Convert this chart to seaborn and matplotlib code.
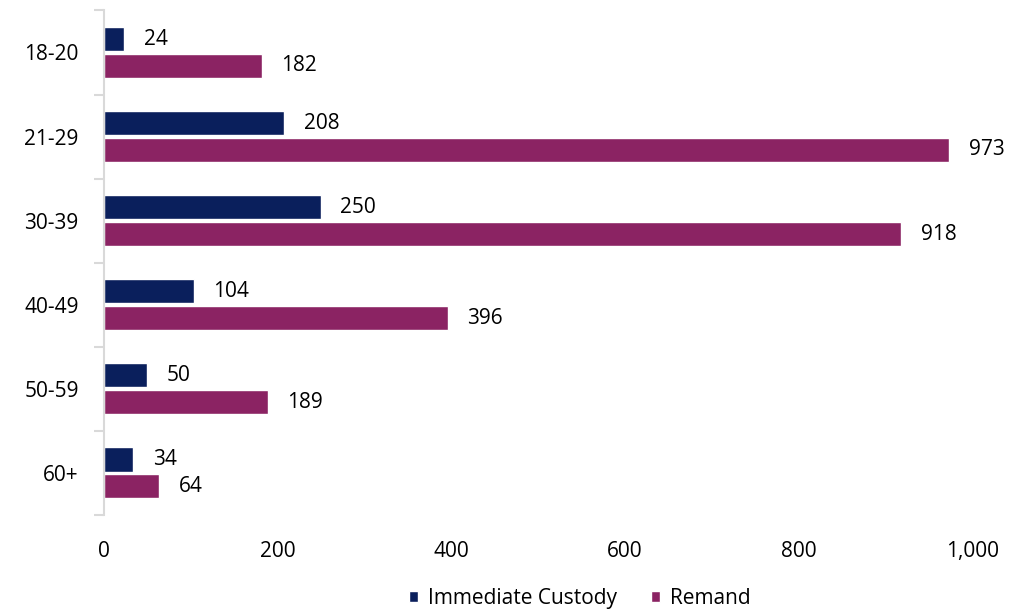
import numpy as np
import pandas as pd
import matplotlib
matplotlib.use('Agg')
from matplotlib import pyplot as plt
from matplotlib.ticker import FuncFormatter, FixedLocator
import seaborn as sns

age_groups = ['18-20', '21-29', '30-39', '40-49', '50-59', '60+']
immediate_custody = [24, 208, 250, 104, 50, 34]
remand = [182, 973, 918, 396, 189, 64]

df = pd.DataFrame({
    'age': age_groups * 2,
    'count': immediate_custody + remand,
    'type': ['Immediate Custody'] * len(age_groups) + ['Remand'] * len(age_groups),
})

sns.set_theme(style='white')
plt.rcParams['font.family'] = ['Open Sans', 'DejaVu Sans']

fig, ax = plt.subplots(figsize=(10.26, 6.13), dpi=100)
fig.subplots_adjust(left=0.101, right=0.948, top=0.983, bottom=0.16)

palette = {'Immediate Custody': '#0a1f5c', 'Remand': '#8b2363'}
sns.barplot(data=df, y='age', x='count', hue='type', palette=palette,
            orient='h', width=0.64, gap=0.1, ax=ax, saturation=1)

# Value labels at the bar ends
for cont in ax.containers:
    ax.bar_label(cont, labels=[f'{int(v)}' for v in cont.datavalues],
                 padding=14, fontsize=15, color='black')

ax.set_xlim(0, 1000)
ax.set_ylim(5.5, -0.5)
ax.set_xticks([0, 200, 400, 600, 800, 1000])
ax.xaxis.set_major_formatter(FuncFormatter(lambda v, p: f'{int(v):,}'))
ax.set_xlabel('')
ax.set_ylabel('')

for side in ['top', 'right', 'bottom']:
    ax.spines[side].set_visible(False)
ax.spines['left'].set_color('#d9d9d9')
ax.spines['left'].set_linewidth(1.5)

ax.tick_params(axis='x', length=0, pad=19, labelsize=15, labelcolor='black')
ax.tick_params(axis='y', which='major', length=0, pad=18, labelsize=15, labelcolor='black')
ax.yaxis.set_minor_locator(FixedLocator(np.arange(-0.5, 6, 1)))
ax.tick_params(axis='y', which='minor', left=True, length=7, width=1.5, color='#d9d9d9')

leg = ax.legend(loc='center', bbox_to_anchor=(0.548, -0.165), ncol=2,
                frameon=False, fontsize=15, handlelength=0.45, handleheight=0.45,
                columnspacing=1.6, handletextpad=0.5)
for t in leg.get_texts():
    t.set_color('black')

fig.savefig('out.png', dpi=100)
